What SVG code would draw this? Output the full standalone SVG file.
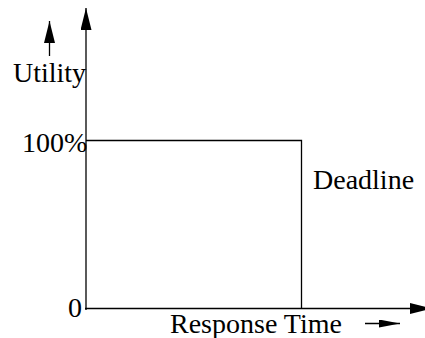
<svg xmlns="http://www.w3.org/2000/svg" width="425" height="338" viewBox="0 0 425 338">
  <style>
    .ln { stroke: #000; stroke-width: 1.3; fill: none; }
    .lbl { font-family: "Liberation Serif", "Times New Roman", serif; font-size: 28px; fill: #000; }
  </style>
  <defs>
    <marker id="head" markerUnits="userSpaceOnUse" markerWidth="24" markerHeight="12" refX="22" refY="5.5" orient="auto">
      <path d="M0,0 L22,5.5 L0,11 Z" fill="#000"/>
    </marker>
    <marker id="smallHead" markerUnits="userSpaceOnUse" markerWidth="24" markerHeight="12" refX="22" refY="5.5" orient="auto">
      <path d="M0,0 L22,5.5 L0,11 Z" fill="#000"/>
    </marker>
    <marker id="flatHead" markerUnits="userSpaceOnUse" markerWidth="24" markerHeight="10" refX="21" refY="4" orient="auto">
      <path d="M0,0 L21,4 L0,8 Z" fill="#000"/>
    </marker>
  </defs>

  <g id="connectors">
    <!-- axes -->
    <line id="y-axis" class="ln" x1="86" y1="310" x2="86" y2="8" marker-end="url(#head)"/>
    <line id="x-axis" class="ln" x1="85" y1="308.5" x2="432" y2="308.5" marker-end="url(#head)"/>
    <!-- step utility curve -->
    <polyline id="utility-curve" class="ln" points="86,140.5 301.5,140.5 301.5,308"/>
    <!-- direction hints -->
    <line class="ln" x1="49.5" y1="56" x2="49.5" y2="21" marker-end="url(#smallHead)"/>
    <line class="ln" x1="365" y1="323.5" x2="400" y2="323.5" marker-end="url(#flatHead)"/>
  </g>

  <g id="label-utility"><text class="lbl" x="13" y="82" font-size="27.5">Utility</text></g>
  <g id="label-100"><text class="lbl" x="22" y="152" font-size="27">100%</text></g>
  <g id="label-0"><text class="lbl" x="68" y="317">0</text></g>
  <g id="label-deadline"><text class="lbl" x="313" y="189" font-size="28.5">Deadline</text></g>
  <g id="label-response"><text class="lbl" x="170" y="333" font-size="28.3">Response Time</text></g>
</svg>
